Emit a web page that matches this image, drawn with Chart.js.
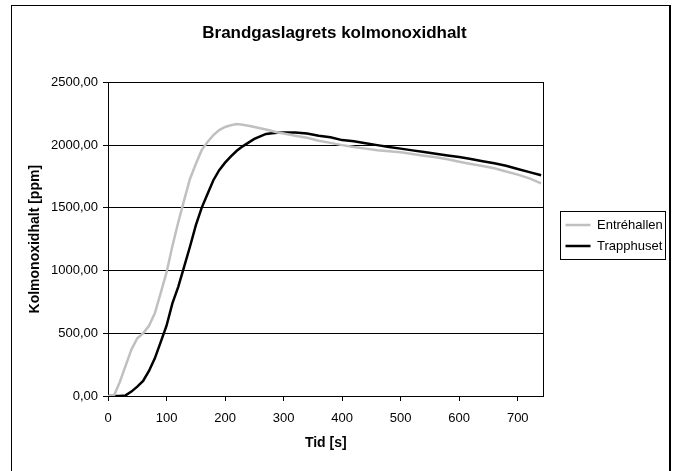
<!DOCTYPE html>
<html>
<head>
<meta charset="utf-8">
<script src="https://cdn.jsdelivr.net/npm/chart.js@4.4.1/dist/chart.umd.min.js"></script>
<style>
    html, body { margin: 0; padding: 0; background: #fff; }
    #wrap { position: relative; width: 678px; height: 471px; overflow: hidden; }
    #frame { position: absolute; left: 11px; top: 5px; width: 657px; height: 490px; border: 1px solid #000; border-right-width: 2px; }
    canvas { position: absolute; left: 0; top: 0; }
</style>
</head>
<body>
<div id="wrap">
    <div id="frame"></div>
    <canvas id="chart" width="678" height="471"></canvas>
</div>
<script>
// Tid [s]
const times = [0, 10, 20, 30, 40, 50, 60, 70, 80, 90, 100, 110, 120, 130, 140, 150, 160, 170, 180, 190,
    200, 210, 220, 230, 240, 250, 260, 270, 280, 290, 300, 320, 340, 360, 380, 400, 420, 440, 460, 480,
    500, 520, 540, 560, 580, 600, 620, 640, 660, 680, 700, 720, 740];

// Kolmonoxidhalt [ppm]
const entrehallen = [0, 0, 110, 240, 370, 460, 500, 560, 660, 820, 985, 1195, 1385, 1560, 1730, 1850, 1960, 2025, 2080, 2120,
    2145, 2158, 2168, 2162, 2155, 2145, 2135, 2125, 2112, 2100, 2092, 2075, 2058, 2035, 2018, 2000, 1985, 1972, 1960, 1952,
    1943, 1930, 1915, 1903, 1888, 1868, 1850, 1833, 1815, 1790, 1765, 1735, 1695];

const trapphuset = [0, 0, 0, 5, 35, 75, 120, 200, 300, 430, 560, 738, 870, 1030, 1190, 1360, 1500, 1610, 1720, 1800,
    1860, 1910, 1955, 1990, 2020, 2049, 2070, 2089, 2095, 2098, 2100, 2100, 2092, 2075, 2062, 2040, 2030, 2015, 2000, 1985,
    1972, 1958, 1945, 1932, 1918, 1905, 1890, 1872, 1855, 1835, 1810, 1785, 1760];

const xTicks = [0, 100, 200, 300, 400, 500, 600, 700];
const yTicks = [0, 500, 1000, 1500, 2000, 2500];

const fontFamily = '"Liberation Sans", Arial, sans-serif';
Chart.defaults.font.family = fontFamily;
Chart.defaults.color = '#000';

// ram runt förklaringen, som i Excel
const legendBox = {
    id: 'legendBox',
    afterDraw(chart) {
        const boxes = chart.legend.legendHitBoxes;
        if (!boxes || !boxes.length) return;
        const left = Math.min(...boxes.map(b => b.left)) - 6;
        const right = Math.max(...boxes.map(b => b.left + b.width)) + 2;
        const top = Math.min(...boxes.map(b => b.top)) - 8;
        const bottom = Math.max(...boxes.map(b => b.top + b.height)) + 6;
        const ctx = chart.ctx;
        ctx.save();
        ctx.strokeStyle = '#000';
        ctx.lineWidth = 1;
        ctx.strokeRect(Math.round(left) + 0.5, Math.round(top) + 0.5, Math.round(right - left), Math.round(bottom - top));
        ctx.restore();
    }
};

const ctx = document.getElementById('chart').getContext('2d');
const myChart = new Chart(ctx, {
    type: 'line',
    data: {
        datasets: [
            {
                label: 'Entréhallen',
                data: times.map((t, i) => ({ x: t, y: entrehallen[i] })),
                borderColor: '#c0c0c0',
                backgroundColor: '#c0c0c0',
                borderWidth: 2.5
            },
            {
                label: 'Trapphuset',
                data: times.map((t, i) => ({ x: t, y: trapphuset[i] })),
                borderColor: '#000',
                backgroundColor: '#000',
                borderWidth: 2.5
            }
        ]
    },
    options: {
        responsive: false,
        animation: false,
        layout: { padding: { left: 0, right: 9, top: 0, bottom: 0 } },
        elements: { point: { radius: 0 }, line: { tension: 0 } },
        plugins: {
            title: {
                display: true,
                text: 'Brandgaslagrets kolmonoxidhalt',
                font: { size: 17, weight: 'bold' },
                padding: { top: 23, bottom: 9 }
            },
            legend: {
                position: 'right',
                labels: {
                    usePointStyle: true,
                    pointStyle: 'line',
                    pointStyleWidth: 25,
                    boxHeight: 13,
                    padding: 8,
                    font: { size: 13 }
                }
            },
            tooltip: { enabled: false }
        },
        scales: {
            x: {
                type: 'linear',
                min: 0,
                max: 744,
                afterBuildTicks: s => { s.ticks = xTicks.map(v => ({ value: v })); },
                afterFit: s => { s.height = 75; },
                grid: { drawOnChartArea: false, tickLength: 5, color: '#000' },
                border: { color: '#000' },
                ticks: { font: { size: 13 }, padding: 10, maxRotation: 0 },
                title: { display: true, text: 'Tid [s]', font: { size: 14, weight: 'bold' }, padding: { top: 0, bottom: 19 } }
            },
            xTop: {
                type: 'linear',
                position: 'top',
                afterFit: s => { s.height = 30; },
                grid: { drawOnChartArea: false, drawTicks: false },
                border: { color: '#000' },
                ticks: { display: false }
            },
            y: {
                min: 0,
                max: 2500,
                afterBuildTicks: s => { s.ticks = yTicks.map(v => ({ value: v })); },
                afterFit: s => { s.width = 108; },
                grid: { color: '#000', tickLength: 5 },
                border: { color: '#000' },
                ticks: { font: { size: 13 }, padding: 5, callback: v => v.toFixed(2).replace('.', ',') },
                title: { display: true, text: 'Kolmonoxidhalt [ppm]', font: { size: 14, weight: 'bold' }, padding: { top: 27, bottom: 0 } }
            },
            yRight: {
                position: 'right',
                afterFit: s => { s.width = 14; },
                grid: { drawOnChartArea: false, drawTicks: false },
                border: { color: '#000' },
                ticks: { display: false }
            }
        }
    },
    plugins: [legendBox]
});
</script>
</body>
</html>
